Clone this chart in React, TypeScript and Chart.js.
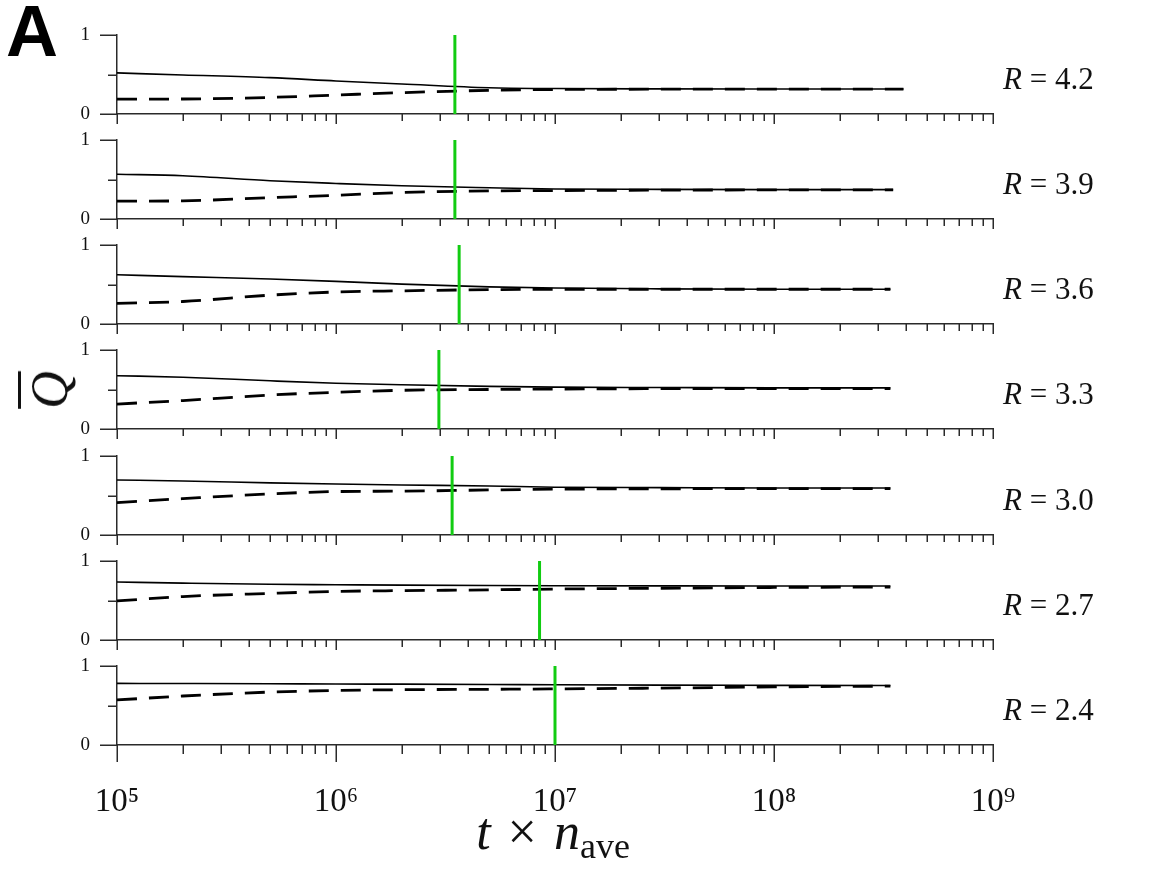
import React, { useEffect, useRef } from 'react';
import { Chart, registerables } from 'chart.js';

Chart.register(...registerables);

// ---------- data ----------
const rValues = ['4.2', '3.9', '3.6', '3.3', '3.0', '2.7', '2.4'];
const tGrid = [1e5, 2e5, 5e5, 1e6, 2e6, 5e6, 1e7, 3e7, 1e8];
const tEnd = [3.9e8, 3.5e8, 3.4e8, 3.4e8, 3.4e8, 3.4e8, 3.4e8];
const tCross = [3.49e6, 3.49e6, 3.65e6, 2.95e6, 3.39e6, 8.5e6, 1.0e7];

const solidR42 = [0.52, 0.494, 0.46, 0.418, 0.38, 0.332, 0.322, 0.318, 0.316, 0.316];
const dashedR42 = [0.188, 0.19, 0.21, 0.24, 0.27, 0.3, 0.31, 0.314, 0.316, 0.316];
const solidR39 = [0.566, 0.548, 0.485, 0.45, 0.42, 0.395, 0.38, 0.375, 0.372, 0.372];
const dashedR39 = [0.225, 0.23, 0.27, 0.3, 0.335, 0.355, 0.36, 0.365, 0.368, 0.368];
const solidR36 = [0.624, 0.6, 0.57, 0.54, 0.505, 0.47, 0.455, 0.445, 0.44, 0.44];
const dashedR36 = [0.26, 0.285, 0.365, 0.405, 0.42, 0.435, 0.44, 0.44, 0.44, 0.44];
const solidR33 = [0.675, 0.655, 0.61, 0.58, 0.56, 0.54, 0.53, 0.525, 0.52, 0.52];
const dashedR33 = [0.316, 0.36, 0.43, 0.465, 0.49, 0.5, 0.505, 0.51, 0.51, 0.51];
const solidR30 = [0.696, 0.684, 0.66, 0.645, 0.633, 0.62, 0.605, 0.6, 0.595, 0.595];
const dashedR30 = [0.41, 0.46, 0.52, 0.55, 0.555, 0.57, 0.58, 0.585, 0.587, 0.587];
const solidR27 = [0.734, 0.72, 0.705, 0.7, 0.695, 0.69, 0.687, 0.685, 0.683, 0.683];
const dashedR27 = [0.494, 0.55, 0.59, 0.615, 0.625, 0.635, 0.645, 0.655, 0.665, 0.67];
const solidR24 = [0.78, 0.778, 0.775, 0.772, 0.77, 0.766, 0.762, 0.758, 0.755, 0.753];
const dashedR24 = [0.57, 0.62, 0.67, 0.69, 0.7, 0.705, 0.71, 0.72, 0.735, 0.745];

const solidSeries = [solidR42, solidR39, solidR36, solidR33, solidR30, solidR27, solidR24];
const dashedSeries = [dashedR42, dashedR39, dashedR36, dashedR33, dashedR30, dashedR27, dashedR24];

const xTickValues = [1e5, 1e6, 1e7, 1e8, 1e9];
const xTickLabels = ['10⁵', '10⁶', '10⁷', '10⁸', '10⁹'];
const yTickValues = [0, 0.5, 1];
const yTickLabels = ['0', '', '1'];

// ---------- layout / style ----------
const W = 1167;
const PANEL_TOPS = [35, 140, 245, 350, 456, 561, 666];
const PANEL_H = 79;
const PAD_TOP = 10;
const LEFT = 117;
const RIGHT = 993;
const AXIS = '#2a2a2a';
const GREEN = '#12cc12';
const SERIF = '"Liberation Serif", "DejaVu Serif", serif';

const tickPlugin = {
  id: 'customTicks',
  afterDraw(chart: any, _args: any, opts: any) {
    const { ctx, chartArea, scales } = chart;
    const xs = scales.x;
    const ys = scales.y;
    ctx.save();
    ctx.strokeStyle = AXIS;
    ctx.lineWidth = 1.5;
    ctx.beginPath();
    for (let e = 5; e <= 9; e++) {
      for (let m = 1; m <= 9; m++) {
        const v = m * Math.pow(10, e);
        if (v > 1e9) break;
        const px = Math.round(xs.getPixelForValue(v)) + 0.25;
        const len = m === 1 ? opts.major : opts.minor;
        ctx.moveTo(px, chartArea.bottom);
        ctx.lineTo(px, chartArea.bottom + len);
      }
    }
    for (const v of yTickValues) {
      const py = Math.round(ys.getPixelForValue(v)) + 0.25;
      const len = v === 0.5 ? 9 : 17;
      ctx.moveTo(chartArea.left - len, py);
      ctx.lineTo(chartArea.left, py);
    }
    ctx.stroke();
    ctx.restore();
  },
};

function zeroPadding(s: any) {
  s.paddingTop = 0;
  s.paddingBottom = 0;
  s.paddingLeft = 0;
  s.paddingRight = 0;
}

function Panel({ index }: { index: number }) {
  const ref = useRef<HTMLCanvasElement>(null);
  const isBottom = index === rValues.length - 1;
  const bottomSpace = isBottom ? 80 : 14;
  const height = PAD_TOP + PANEL_H + bottomSpace;

  useEffect(() => {
    const xs = [...tGrid, tEnd[index]];
    const chart = new Chart(ref.current as HTMLCanvasElement, {
      type: 'line',
      data: {
        datasets: [
          {
            data: [
              { x: tCross[index], y: 0 },
              { x: tCross[index], y: 1 },
            ],
            borderColor: GREEN,
            borderWidth: 3,
            pointRadius: 0,
          },
          {
            data: xs.map((x, i) => ({ x, y: solidSeries[index][i] })),
            borderColor: '#000',
            borderWidth: 1.6,
            pointRadius: 0,
            cubicInterpolationMode: 'monotone',
          },
          {
            data: xs.map((x, i) => ({ x, y: dashedSeries[index][i] })),
            borderColor: '#000',
            borderWidth: 2.8,
            borderDash: [20, 12],
            pointRadius: 0,
            cubicInterpolationMode: 'monotone',
          },
        ],
      } as any,
      options: {
        responsive: false,
        animation: false,
        layout: { autoPadding: false, padding: { left: 0, right: W - RIGHT, top: PAD_TOP, bottom: 0 } },
        plugins: {
          legend: { display: false },
          tooltip: { enabled: false },
          customTicks: { major: isBottom ? 17 : 10, minor: isBottom ? 9 : 7 },
        } as any,
        scales: {
          x: {
            type: 'logarithmic',
            min: 1e5,
            max: 1e9,
            position: 'bottom',
            afterBuildTicks: (s: any) => {
              s.ticks = xTickValues.map((v) => ({ value: v }));
            },
            afterFit: (s: any) => {
              s.height = bottomSpace;
              zeroPadding(s);
            },
            grid: { display: false, drawTicks: false },
            border: { display: true, color: AXIS, width: 1.5 },
            ticks: {
              display: isBottom,
              padding: 38,
              maxRotation: 0,
              autoSkip: false,
              color: '#111',
              font: { family: SERIF, size: 33 },
              callback: (_v: any, i: number) => xTickLabels[i],
            },
          },
          y: {
            type: 'linear',
            min: 0,
            max: 1,
            afterBuildTicks: (s: any) => {
              s.ticks = yTickValues.map((v) => ({ value: v }));
            },
            afterFit: (s: any) => {
              s.width = LEFT;
              zeroPadding(s);
            },
            grid: { display: false, drawTicks: false },
            border: { display: true, color: AXIS, width: 1.5 },
            ticks: {
              padding: 27,
              color: '#111',
              font: { family: SERIF, size: 19 },
              callback: (_v: any, i: number) => yTickLabels[i],
            },
          },
        },
      } as any,
      plugins: [tickPlugin],
    });
    return () => chart.destroy();
  }, [index]);

  return (
    <canvas
      ref={ref}
      width={W}
      height={height}
      style={{ position: 'absolute', left: 0, top: PANEL_TOPS[index] - PAD_TOP, width: W, height }}
    />
  );
}

export default function App() {
  return (
    <div
      style={{
        position: 'absolute',
        left: 0,
        top: 0,
        width: W,
        height: 875,
        background: '#fff',
        overflow: 'hidden',
      }}
    >
      {rValues.map((_, i) => (
        <Panel key={i} index={i} />
      ))}
      {rValues.map((r, i) => (
        <div
          key={'r' + i}
          style={{
            position: 'absolute',
            left: 1003,
            top: PANEL_TOPS[i] + 43,
            transform: 'translateY(-50%)',
            font: `31px ${SERIF}`,
            lineHeight: 1,
            whiteSpace: 'nowrap',
            color: '#111',
          }}
        >
          <i>R</i> = {r}
        </div>
      ))}
      <div
        style={{
          position: 'absolute',
          left: 6,
          top: -5,
          font: 'bold 72px "Liberation Sans", Arial, sans-serif',
          lineHeight: 1,
          color: '#000',
        }}
      >
        A
      </div>
      <div
        style={{
          position: 'absolute',
          left: 50,
          top: 390,
          transform: 'translate(-50%, -50%) rotate(-90deg)',
          font: `italic 52px ${SERIF}`,
          lineHeight: 1,
          color: '#111',
          whiteSpace: 'nowrap',
        }}
      >
        <span style={{ textDecoration: 'overline', textDecorationThickness: '3px' }}>Q</span>
      </div>
      <div
        style={{
          position: 'absolute',
          left: 553,
          top: 806,
          transform: 'translateX(-50%)',
          font: `52px ${SERIF}`,
          lineHeight: 1,
          color: '#111',
          whiteSpace: 'nowrap',
          wordSpacing: 4,
        }}
      >
        <i>t</i> × <i>n</i>
        <span style={{ fontSize: 36, position: 'relative', top: 9 }}>ave</span>
      </div>
    </div>
  );
}
